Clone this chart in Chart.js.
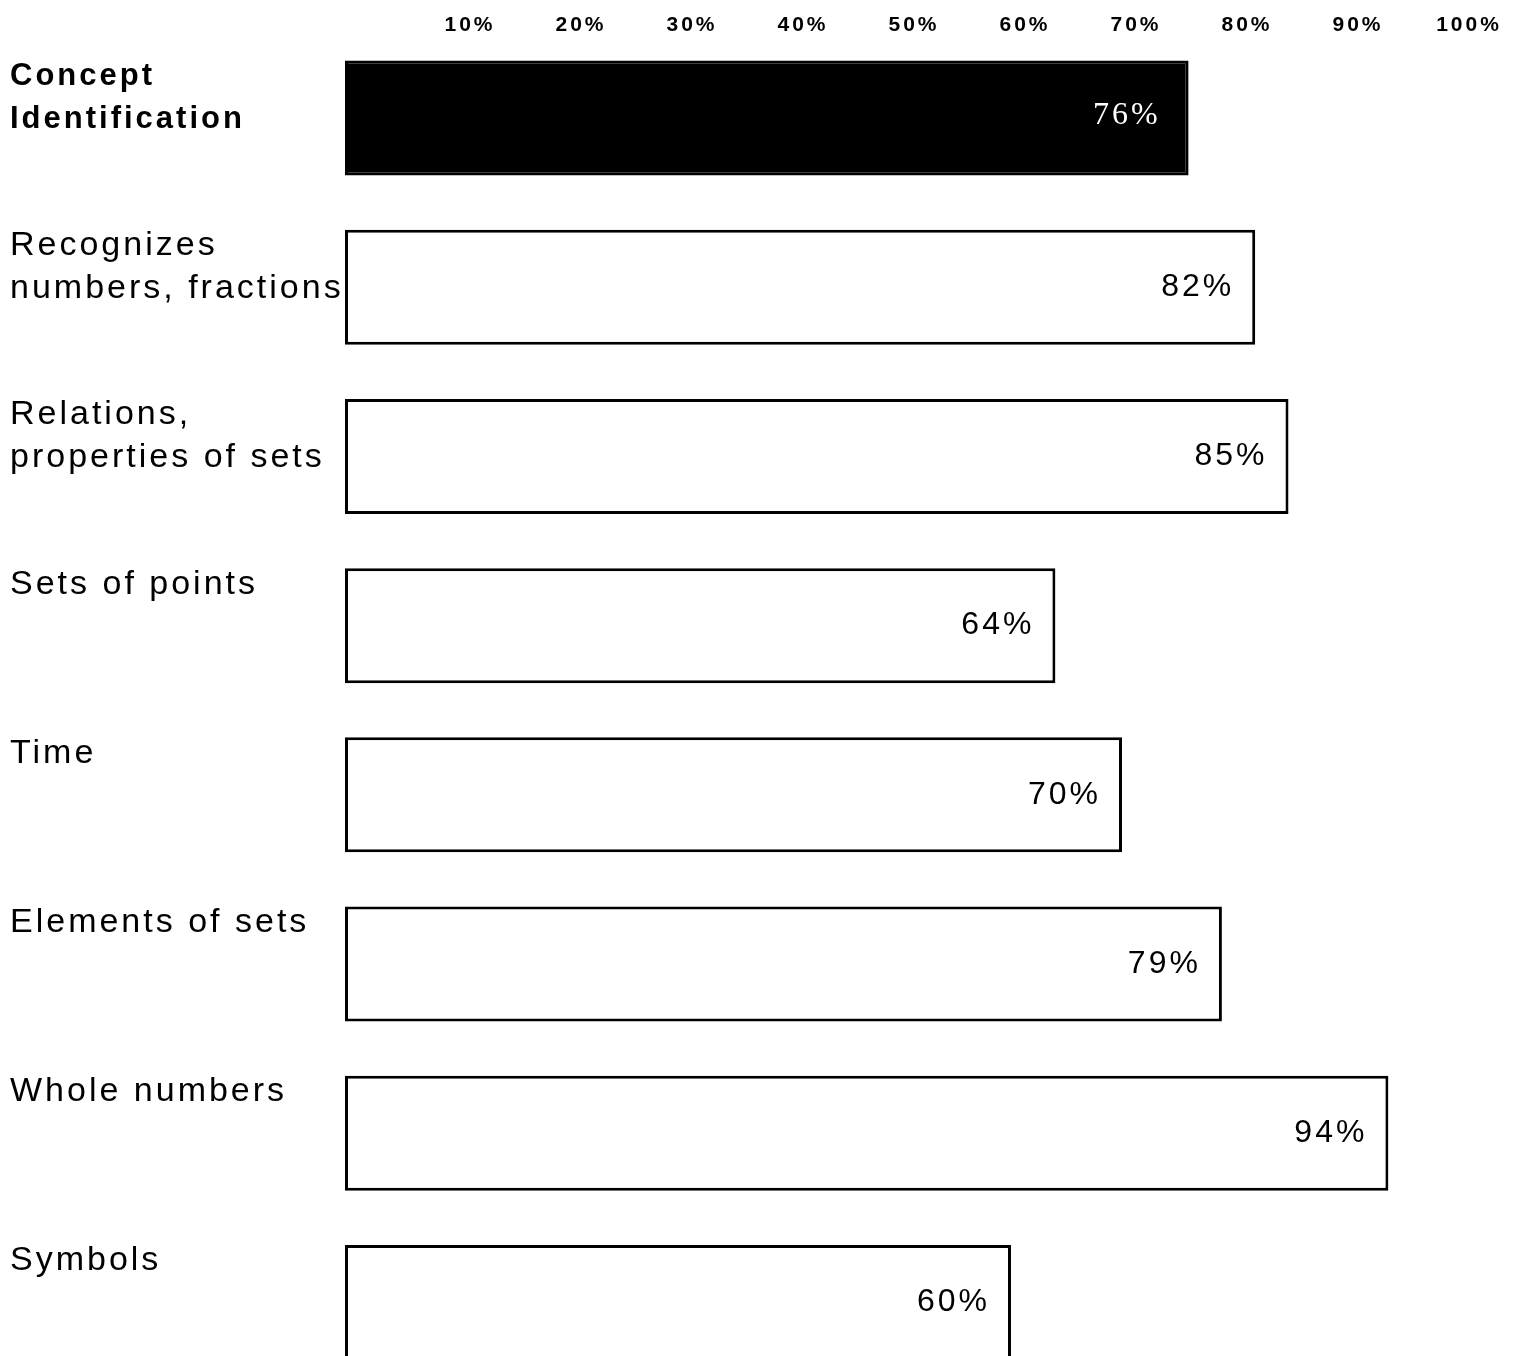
<!DOCTYPE html>
<html>
<head>
<meta charset="utf-8">
<script src="https://cdn.jsdelivr.net/npm/chart.js@4/dist/chart.umd.min.js"></script>
<style>
  html, body { margin: 0; padding: 0; background: #fff; overflow: hidden; }
  canvas { display: block; }
</style>
</head>
<body>
<canvas id="barras" width="1526" height="1387"></canvas>
<script>
// categorias (cada uma em duas linhas, a segunda vazia quando não há quebra)
const categorias = [
	["Concept", "Identification"],
	["Recognizes", "numbers, fractions"],
	["Relations,", "properties of sets"],
	["Sets of points", ""],
	["Time", ""],
	["Elements of sets", ""],
	["Whole numbers", ""],
	["Symbols", ""]
];
const percentuais = [76, 82, 85, 64, 70, 79, 94, 60];
const ticksX = [0, 10, 20, 30, 40, 50, 60, 70, 80, 90, 100];

const fonte = "'Liberation Sans', Arial, Helvetica, sans-serif";
const entreLinhas = 43; // distância entre as duas linhas de cada categoria

// espaçamento entre letras, como na tipografia original
const espacamento = {
	id: 'espacamento',
	beforeUpdate(chart) { chart.ctx.letterSpacing = '3px'; },
	beforeDraw(chart) { chart.ctx.letterSpacing = '3px'; }
};

// escreve o valor dentro de cada barra, junto à ponta
const rotulos = {
	id: 'rotulos',
	afterDatasetsDraw(chart) {
		const ctx = chart.ctx;
		const meta = chart.getDatasetMeta(0);
		ctx.save();
		ctx.textAlign = 'right';
		ctx.textBaseline = 'middle';
		meta.data.forEach((barra, i) => {
			if (i === 0) {
				ctx.fillStyle = '#fff';
				ctx.font = "32px 'Liberation Serif', 'Times New Roman', serif";
				ctx.fillText(percentuais[i] + '%', barra.x - 28, barra.y - 3);
			} else {
				ctx.fillStyle = '#000';
				ctx.font = '32px ' + fonte;
				ctx.fillText(percentuais[i] + '%', barra.x - 21, barra.y);
			}
		});
		ctx.restore();
	}
};

let barras = document.getElementById("barras");
var myChart = new Chart(barras, {
	type: 'bar',
	data: {
		labels: categorias,
		datasets: [{
			data: percentuais,
			backgroundColor: percentuais.map((v, i) => i === 0 ? '#000' : '#fff'),
			borderColor: '#000',
			borderWidth: 3,
			borderSkipped: false,
			categoryPercentage: 1,
			barPercentage: 0.68
		}]
	},
	options: {
		indexAxis: 'y',
		responsive: false,
		animation: false,
		layout: {
			padding: { top: 16.5, left: 10, right: 71, bottom: 0 }
		},
		plugins: {
			legend: { display: false },
			tooltip: { enabled: false }
		},
		scales: {
			x: {
				position: 'top',
				min: 0,
				max: 100,
				afterBuildTicks(scale) {
					scale.ticks = ticksX.map(v => ({ value: v }));
				},
				grid: { display: false, drawTicks: false },
				border: { display: false },
				ticks: {
					padding: -2,
					labelOffset: 14,
					maxRotation: 0,
					autoSkip: false,
					color: '#000',
					font: { family: fonte, size: 21, weight: 'bold', lineHeight: 1 },
					callback: (v) => v === 0 ? '' : v + '%'
				}
			},
			y: {
				afterFit(scale) {
					scale.width = 335;
					// os rótulos ficam no topo da faixa; sem folga extra em cima e embaixo
					scale.paddingTop = 0;
					scale.paddingBottom = 0;
				},
				grid: { display: false, drawTicks: false },
				border: { display: false },
				ticks: {
					crossAlign: 'far',
					padding: 0,
					labelOffset: -20,
					autoSkip: false,
					color: '#000',
					font: (c) => {
						const tam = c.index === 0 ? 31 : 34;
						return {
							family: fonte,
							size: tam,
							weight: c.index === 0 ? 'bold' : 'normal',
							lineHeight: entreLinhas / tam
						};
					}
				}
			}
		}
	},
	plugins: [espacamento, rotulos]
});
</script>
</body>
</html>
